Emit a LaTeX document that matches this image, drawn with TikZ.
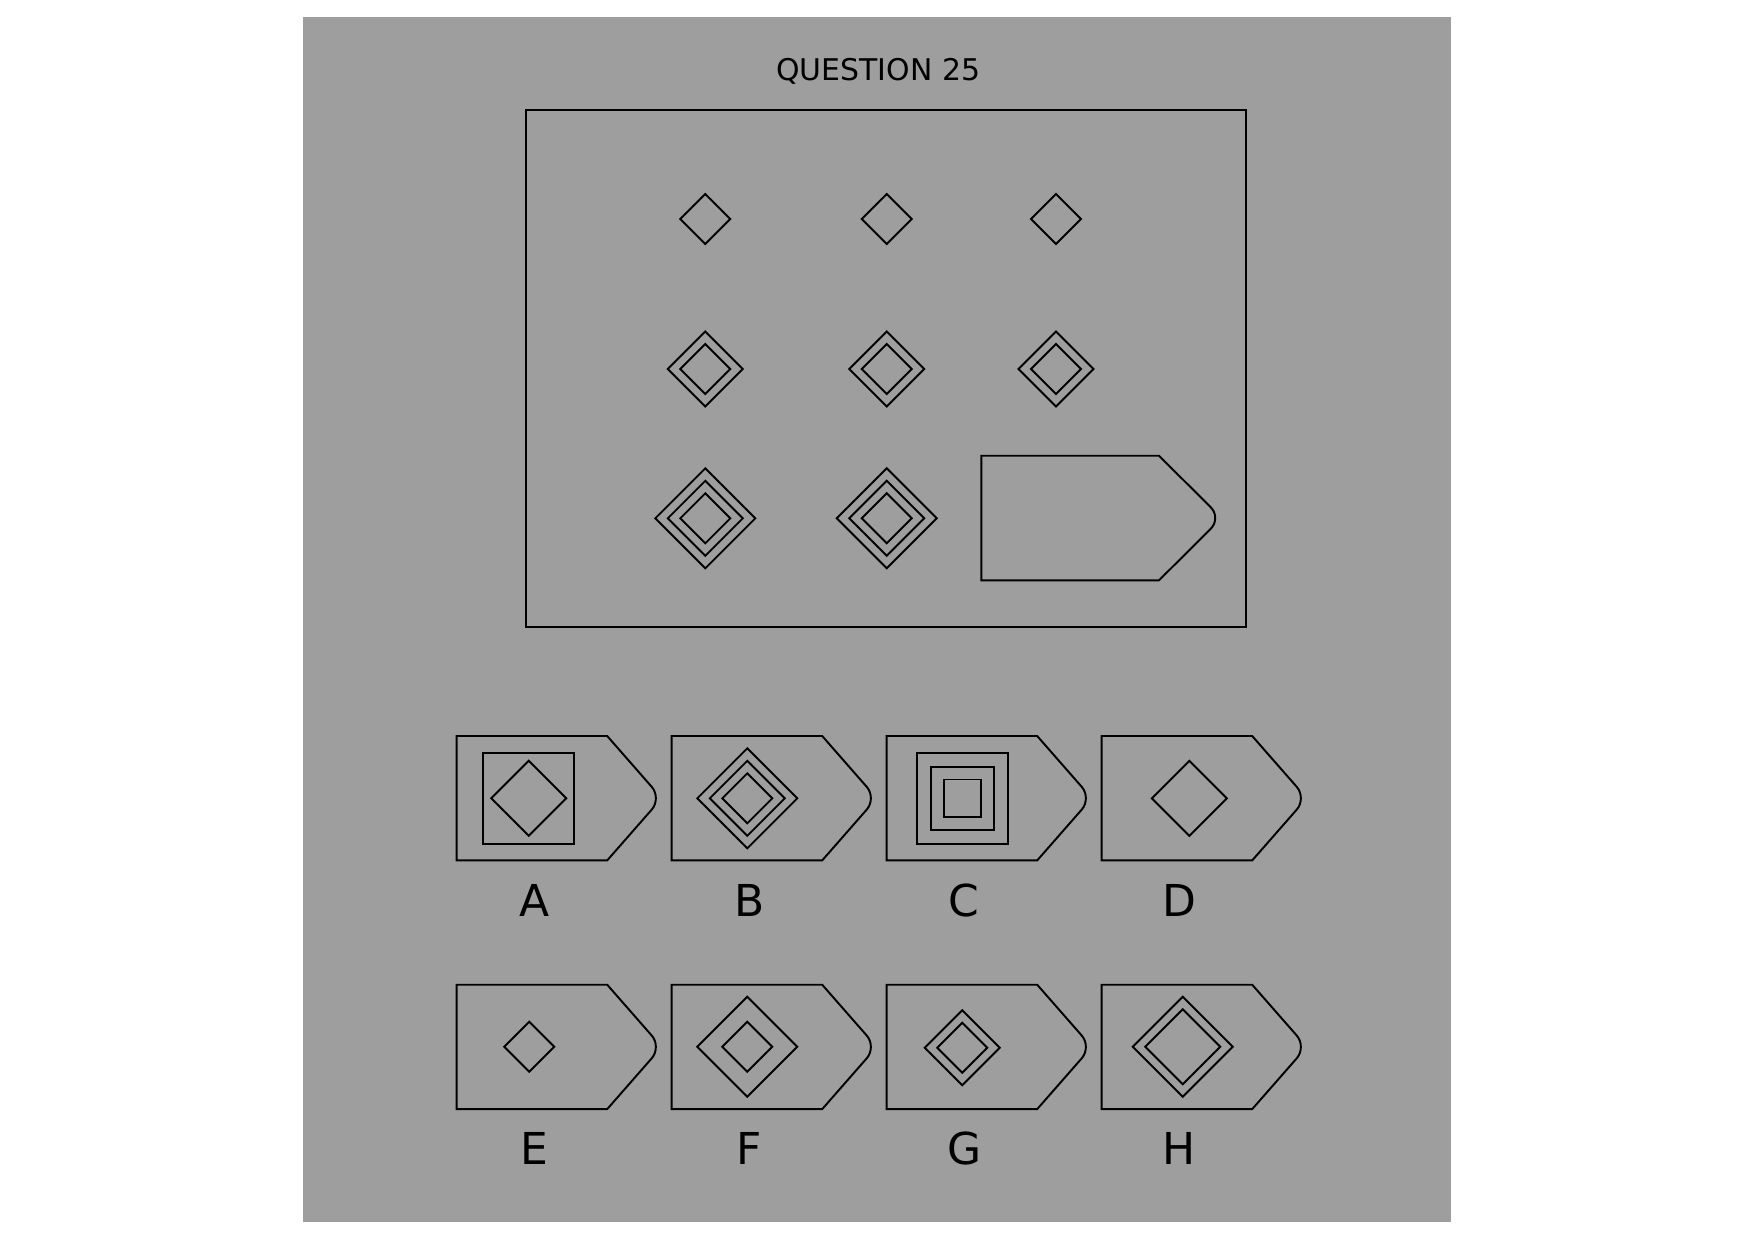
\documentclass[tikz,border=0pt]{standalone}
\usepackage{fontspec}
\setmainfont{DejaVu Sans}
\usepackage{tikz}
\usetikzlibrary{positioning}
\definecolor{panelgray}{RGB}{158,158,158}
\newcommand{\drawrhomb}[2]{\draw[outline] (#1) +(-#2,0) -- +(0,-#2) -- +(#2,0) -- +(0,#2) -- cycle;}
\newcommand{\drawsq}[2]{\draw[outline] (#1) +(-#2,-#2) rectangle +(#2,#2);}

\begin{document}
\begin{tikzpicture}[x=0.01cm, y=-0.01cm, line join=miter,
		outline/.style={draw=black, line width=0.55pt},
		letter/.style={font=\fontsize{12.5}{14}\selectfont, anchor=base, inner sep=0pt},
		answerbox/.pic={
			\draw[outline] (0,0) -- (150.5,0) [rounded corners=4.3pt] -- (205,62.2) [sharp corners] -- (150.5,124.4) -- (0,124.4) -- cycle;
		}]
		\useasboundingbox (0,0) rectangle (1754,1241);
		\fill[panelgray] (303,17) rectangle (1451,1222);
		
		\node[anchor=base, inner sep=0pt, font=\fontsize{8.5}{10}\selectfont] (title) at (878.3,80) {QUESTION 25};
		
		% question grid
		\draw[outline, line width=0.65pt] (526.3,110) rectangle (1246,627.3);
		\foreach \cx in {705.3,886.7,1056} {
			\drawrhomb{\cx,219}{25}
			\drawrhomb{\cx,369}{25}
			\drawrhomb{\cx,369}{37.5}
		}
		\foreach \cx in {705.3,886.7} {
			\foreach \r in {25,37.5,50} {\drawrhomb{\cx,518.3}{\r}}
		}
		\draw[outline] (981.3,455.7) -- (1159,455.7) [rounded corners=4.3pt] -- (1221.5,518) [sharp corners] -- (1159,580.3) -- (981.3,580.3) -- cycle;
		
		% answers, first row
		\begin{scope}[shift={(456.7,736)}]
			\pic {answerbox};
			\drawsq{72,62.3}{45.3}
			\drawrhomb{72,62.3}{37.5}
			\node[letter] (optA) at (77.5,180.7) {A};
		\end{scope}
		\begin{scope}[shift={(671.7,736)}]
			\pic {answerbox};
			\foreach \r in {25,37.5,50} {\drawrhomb{75.6,62.3}{\r}}
			\node[letter] (optB) at (77.5,180.7) {B};
		\end{scope}
		\begin{scope}[shift={(886.7,736)}]
			\pic {answerbox};
			\foreach \h in {18.8,31.6,45.5} {\drawsq{75.8,62.3}{\h}}
			\node[letter] (optC) at (77.5,180.7) {C};
		\end{scope}
		\begin{scope}[shift={(1101.7,736)}]
			\pic {answerbox};
			\drawrhomb{87.6,62.3}{37.5}
			\node[letter] (optD) at (77.5,180.7) {D};
		\end{scope}
		
		% answers, second row
		\begin{scope}[shift={(456.7,984.7)}]
			\pic {answerbox};
			\drawrhomb{72.6,62}{25}
			\node[letter] (optE) at (77.5,179.3) {E};
		\end{scope}
		\begin{scope}[shift={(671.7,984.7)}]
			\pic {answerbox};
			\foreach \r in {25,50} {\drawrhomb{75.6,62}{\r}}
			\node[letter] (optF) at (77.5,179.3) {F};
		\end{scope}
		\begin{scope}[shift={(886.7,984.7)}]
			\pic {answerbox};
			\foreach \r in {25,37.5} {\drawrhomb{75.6,63}{\r}}
			\node[letter] (optG) at (77.5,179.3) {G};
		\end{scope}
		\begin{scope}[shift={(1101.7,984.7)}]
			\pic {answerbox};
			\foreach \r in {37.5,50} {\drawrhomb{81,62}{\r}}
			\node[letter] (optH) at (77.5,179.3) {H};
		\end{scope}
	\end{tikzpicture}
\end{document}
